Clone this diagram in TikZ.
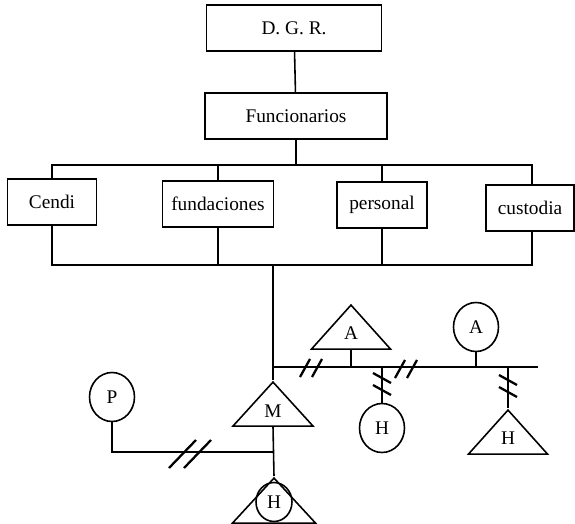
\documentclass[tikz,border=0pt]{standalone}
\usepackage{fontspec}
\setmainfont{Liberation Serif}
\usetikzlibrary{shapes.geometric, positioning}

\begin{document}
\begin{tikzpicture}[
  x=0.02cm, y=-0.02cm,
  line width=0.9pt,
  every node/.style={font=\fontsize{11}{13}\selectfont},
  orgbox/.style={rectangle, draw, inner sep=0pt, minimum height=0.93cm},
  tribox/.style={isosceles triangle, shape border rotate=90, isosceles triangle stretches,
    draw, inner sep=0pt, minimum width=1.6cm, minimum height=0.88cm, anchor=apex},
  rndbox/.style={ellipse, draw, inner sep=0pt, minimum width=0.9cm, minimum height=0.98cm},
  brk/.pic={\draw[line width=1.3pt] (-11,9) -- (-1,-9) (1,9) -- (11,-9);},
  brkbig/.pic={\draw[line width=1.3pt] (-21,14) -- (6,-14) (-6,14) -- (21,-14);},
]
\useasboundingbox (0,0) rectangle (575,524);

% organigrama
\node[orgbox, minimum width=3.5cm] (dgr) at (294,28) {D. G. R.};
\node[orgbox, minimum width=3.64cm] (func) at (296,116) {Funcionarios};
\node[orgbox, minimum width=1.78cm] (cendi) at (52,202) {Cendi};
\node[orgbox, minimum width=2.22cm] (fund) at (218,204) {fundaciones};
\node[orgbox, minimum width=1.8cm] (pers) at (382,205) {personal};
\node[orgbox, minimum width=1.76cm] (cust) at (530,208) {custodia};

\coordinate (tl) at (52,165);
\coordinate (tr) at (532,165);
\coordinate (bl) at (52,265);
\coordinate (br) at (532,265);

\draw (dgr) -- (func);
\draw (func.south) -- (func.south |- tl);
\draw (cendi.north) -- (tl) -- (tr) -- (tr |- cust.north);
\draw (fund.north) -- (fund.north |- tl);
\draw (pers.north) -- (pers.north |- tl);
\draw (cendi.south) -- (bl) -- (br) -- (br |- cust.south);
\draw (fund.south) -- (fund.south |- bl);
\draw (pers.south) -- (pers.south |- bl);

% simbolos
\node[tribox] (m) at (273,380) {M};
\node[tribox, minimum width=1.58cm] (atri) at (351,303) {A};
\node[tribox, minimum width=1.58cm] (htri) at (508,408) {H};
\node[tribox, minimum width=1.66cm, minimum height=0.9cm] (hbot) at (274,476) {};
\node[rndbox, minimum width=0.72cm, minimum height=0.78cm] (hcir) at (274,502) {H};
\node[rndbox] (p) at (112,397) {P};
\node[rndbox] (hr) at (382,428) {H};
\node[rndbox] (acir) at (476,327) {A};

\coordinate (hub) at (273,265);
\coordinate (jn) at (273,367);
\coordinate (rend) at (538,367);
\coordinate (mj) at (273,452);

\draw (hub) -- (m.apex);
\draw (jn) -- (rend);
\draw (atri.lower side) -- (atri.lower side |- jn);
\draw (acir.south) -- (acir.south |- jn);
\draw (hr.north |- jn) -- (hr.north);
\draw (htri.apex |- jn) -- (htri.apex);
\draw (m.lower side) -- (hbot.apex);
\draw (p.south) |- (mj);

\pic at (311,368) {brk};
\pic at (406,369) {brk};
\pic[rotate=-90] at (382,384) {brk};
\pic[rotate=-90] at (508,386) {brk};
\pic at (190,454) {brkbig};

\end{tikzpicture}
\end{document}
